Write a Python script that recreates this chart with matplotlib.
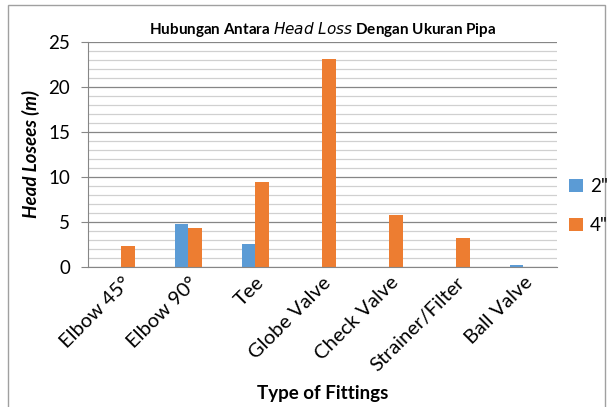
import matplotlib
matplotlib.use("Agg")
import matplotlib.pyplot as plt
import numpy as np
from matplotlib.patches import Rectangle

categories = ["Elbow 45°", "Elbow 90°", "Tee", "Globe Valve", "Check Valve", "Strainer/Filter", "Ball Valve"]
series_names = ['2"', '4"']
vals_2in = [0, 4.8, 2.5, 0, 0, 0, 0.25]
vals_4in = [2.3, 4.35, 9.4, 23.1, 5.8, 3.2, 0]
colors = ["#5B9BD5", "#ED7D31"]

plt.rcParams['font.family'] = ['Lato', 'DejaVu Sans']

fig = plt.figure(figsize=(6.09, 4.07), dpi=100)
ax = fig.add_axes([0.1445, 0.344, 0.770, 0.553])

x = np.arange(len(categories))
w = 0.2
ax.bar(x - w/2, vals_2in, w, color=colors[0], label=series_names[0])
ax.bar(x + w/2, vals_4in, w, color=colors[1], label=series_names[1])

ax.set_xlim(-0.5, len(categories) - 0.5)
ax.set_ylim(0, 25)
ax.set_yticks(range(0, 26, 5))
ax.set_yticks(range(0, 26, 1), minor=True)
ax.grid(axis='y', which='major', color='#868686', linewidth=0.9)
ax.grid(axis='y', which='minor', color='#D0D0D0', linewidth=0.9)
ax.set_axisbelow(True)
ax.tick_params(axis='y', which='both', length=0, labelsize=13.5, pad=8)
ax.tick_params(axis='y', which='major', length=5, color='#868686')
ax.tick_params(axis='x', length=0, labelsize=14.5, pad=5)
ax.set_xticks(x)
ax.set_xticklabels(categories, rotation=45, ha='right', rotation_mode='anchor')
for s in ['top', 'right']:
    ax.spines[s].set_visible(False)
ax.spines['left'].set_color('#868686')
ax.spines['bottom'].set_color('#868686')

ax.set_ylabel("Head Losees (m)", fontsize=13.5, fontweight='bold', style='italic', labelpad=6)
ax.set_xlabel("Type of Fittings", fontsize=13.5, fontweight='bold', labelpad=8)
ax.set_title("Hubungan Antara $\\mathit{Head\\ Loss}$ Dengan Ukuran Pipa", fontsize=11, fontweight='bold', pad=6)

handles, labels = ax.get_legend_handles_labels()
fig.legend(handles, labels, loc='center left', bbox_to_anchor=(0.935, 0.494),
           bbox_transform=fig.transFigure, frameon=False, borderpad=0, borderaxespad=0,
           fontsize=13.5, handlelength=0.7, handleheight=0.7, labelspacing=1.2, handletextpad=0.4)

fig.patches.append(Rectangle((0.013, -0.01), 0.98, 0.998, transform=fig.transFigure,
                             fill=False, edgecolor='#A0A0A0', linewidth=1))

fig.savefig("out.png", dpi=100)
